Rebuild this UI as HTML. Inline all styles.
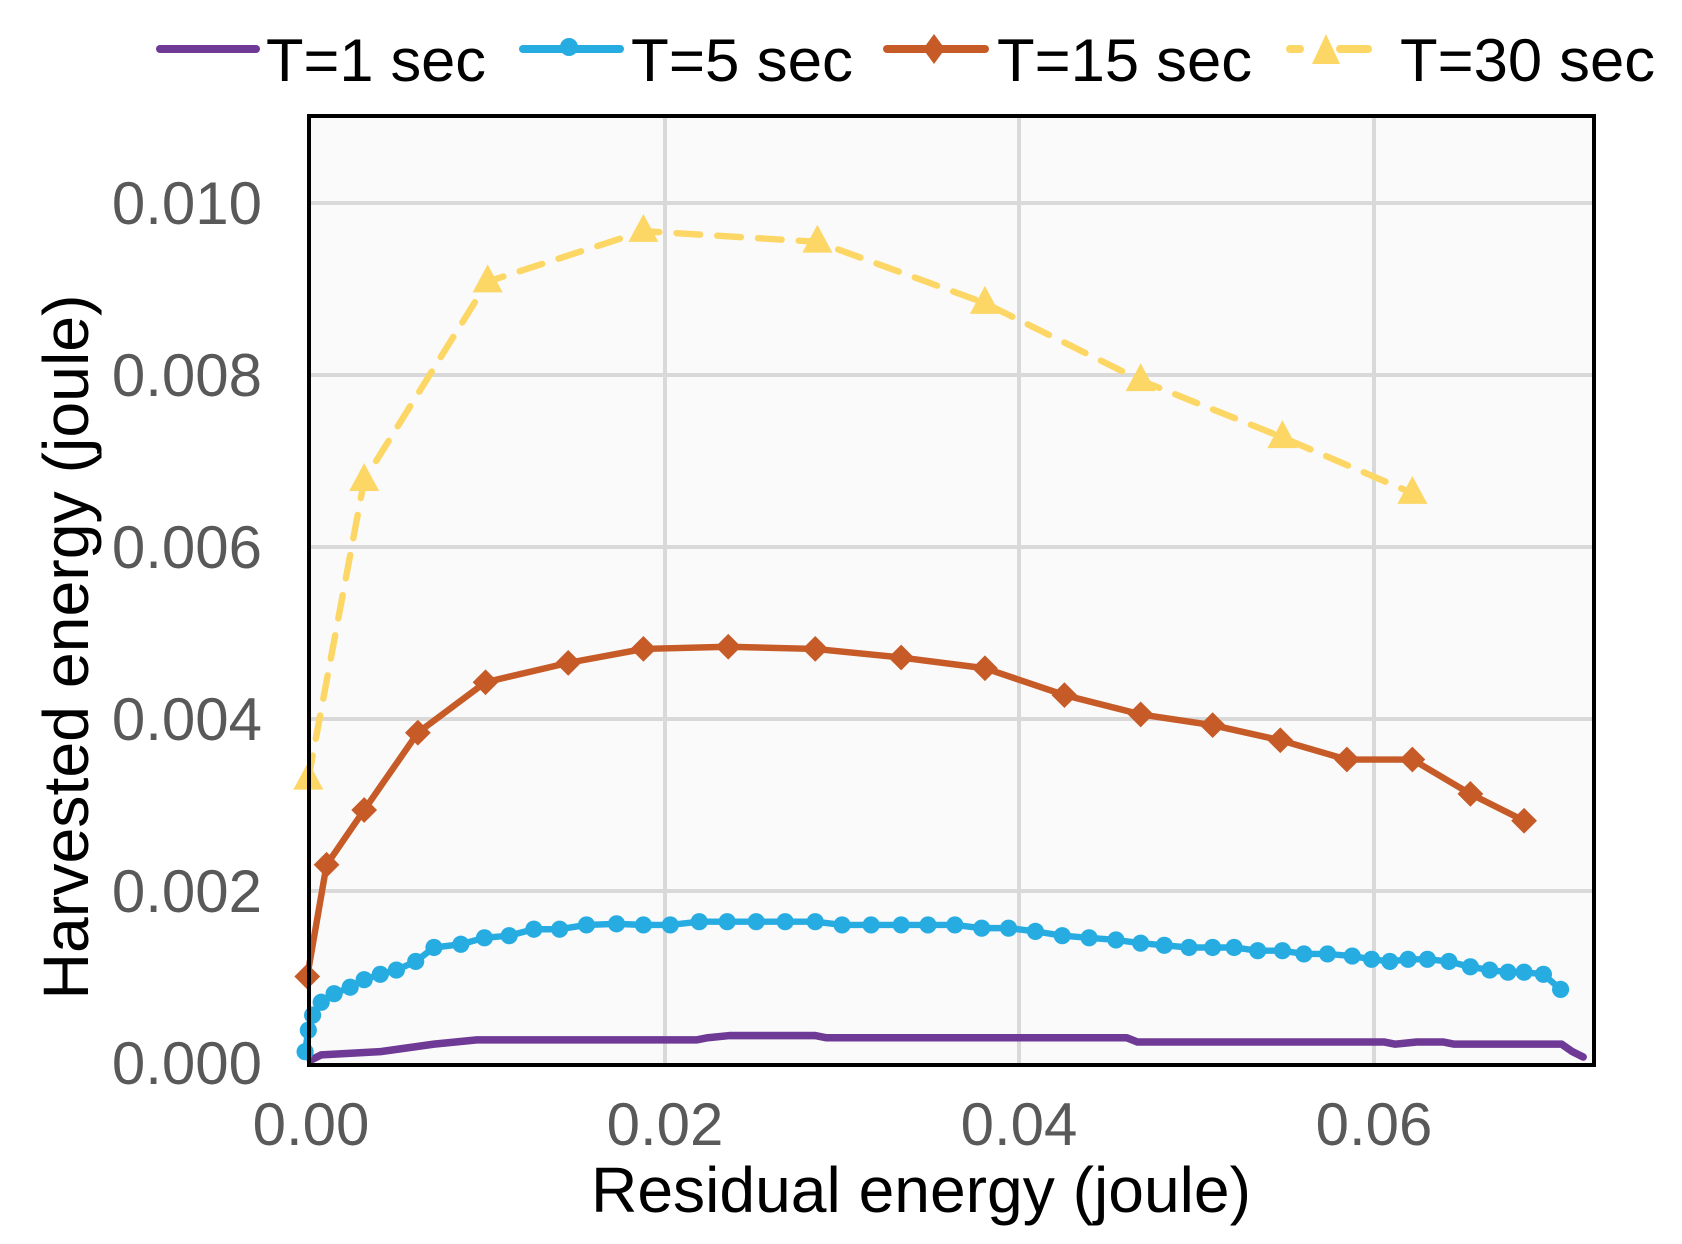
<!DOCTYPE html>
<html><head><style>html,body{margin:0;padding:0;background:#fff;}svg{display:block}</style></head>
<body>
<svg width="1682" height="1244" viewBox="0 0 1682 1244" xmlns="http://www.w3.org/2000/svg" font-family="Liberation Sans, Arial, sans-serif">
<rect x="309" y="116" width="1285" height="949" fill="#fafafa"/>
<g stroke="#d9d9d9" stroke-width="4">
<line x1="309" x2="1594" y1="891" y2="891"/><line x1="309" x2="1594" y1="719" y2="719"/>
<line x1="309" x2="1594" y1="547" y2="547"/><line x1="309" x2="1594" y1="375" y2="375"/>
<line x1="309" x2="1594" y1="203" y2="203"/>
<line x1="665" x2="665" y1="116" y2="1065"/><line x1="1019" x2="1019" y1="116" y2="1065"/><line x1="1374" x2="1374" y1="116" y2="1065"/>
</g>
<g fill="#595959" font-size="60" text-anchor="end">
<text x="262" y="1084">0.000</text><text x="262" y="912">0.002</text><text x="262" y="740">0.004</text>
<text x="262" y="568">0.006</text><text x="262" y="396">0.008</text><text x="262" y="224">0.010</text>
</g>
<g fill="#595959" font-size="60" text-anchor="middle">
<text x="311" y="1145">0.00</text><text x="665" y="1145">0.02</text><text x="1019" y="1145">0.04</text><text x="1374" y="1145">0.06</text>
</g>
<text x="921" y="1212" font-size="64" text-anchor="middle" fill="#000" textLength="660" lengthAdjust="spacingAndGlyphs">Residual energy (joule)</text>
<text transform="translate(88,647) rotate(-90)" font-size="64" text-anchor="middle" fill="#000" textLength="705" lengthAdjust="spacingAndGlyphs">Harvested energy (joule)</text>

<g transform="translate(-1,-3) scale(1.074)" stroke-linejoin="round" stroke-linecap="round">
<polyline fill="none" stroke="#6f3a96" stroke-width="7" points="290,990 300,985 355,982 405,975 445,971 650,971 660,969 680,967 760,967 770,969 1050,969 1060,973 1290,973 1300,975 1320,973 1345,973 1355,975 1455,975 1465,982 1475,987"/>
<g id="t5">
<polyline fill="none" stroke="#27ace2" stroke-width="6" points="285,982 288,962 292,948 300,936 312,928 327,922 340,915 355,910 370,906 388,898 405,885 430,882 452,876 475,874 498,868 522,868 547,864 575,863 600,864 625,864 652,861 678,861 705,861 732,861 760,861 785,864 812,864 840,864 865,864 890,864 915,867 940,867 965,870 990,874 1015,876 1040,878 1063,881 1085,883 1108,885 1130,885 1150,885 1172,888 1195,888 1215,891 1237,891 1260,893 1278,896 1295,898 1312,896 1330,896 1350,898 1370,903 1388,906 1405,908 1420,908 1438,910 1454,924"/>
<g fill="#27ace2">
<circle cx="285" cy="982" r="8"/><circle cx="288" cy="962" r="8"/><circle cx="292" cy="948" r="8"/><circle cx="300" cy="936" r="8"/><circle cx="312" cy="928" r="8"/><circle cx="327" cy="922" r="8"/><circle cx="340" cy="915" r="8"/><circle cx="355" cy="910" r="8"/><circle cx="370" cy="906" r="8"/><circle cx="388" cy="898" r="8"/><circle cx="405" cy="885" r="8"/><circle cx="430" cy="882" r="8"/><circle cx="452" cy="876" r="8"/><circle cx="475" cy="874" r="8"/><circle cx="498" cy="868" r="8"/><circle cx="522" cy="868" r="8"/><circle cx="547" cy="864" r="8"/><circle cx="575" cy="863" r="8"/><circle cx="600" cy="864" r="8"/><circle cx="625" cy="864" r="8"/><circle cx="652" cy="861" r="8"/><circle cx="678" cy="861" r="8"/><circle cx="705" cy="861" r="8"/><circle cx="732" cy="861" r="8"/><circle cx="760" cy="861" r="8"/><circle cx="785" cy="864" r="8"/><circle cx="812" cy="864" r="8"/><circle cx="840" cy="864" r="8"/><circle cx="865" cy="864" r="8"/><circle cx="890" cy="864" r="8"/><circle cx="915" cy="867" r="8"/><circle cx="940" cy="867" r="8"/><circle cx="965" cy="870" r="8"/><circle cx="990" cy="874" r="8"/><circle cx="1015" cy="876" r="8"/><circle cx="1040" cy="878" r="8"/><circle cx="1063" cy="881" r="8"/><circle cx="1085" cy="883" r="8"/><circle cx="1108" cy="885" r="8"/><circle cx="1130" cy="885" r="8"/><circle cx="1150" cy="885" r="8"/><circle cx="1172" cy="888" r="8"/><circle cx="1195" cy="888" r="8"/><circle cx="1215" cy="891" r="8"/><circle cx="1237" cy="891" r="8"/><circle cx="1260" cy="893" r="8"/><circle cx="1278" cy="896" r="8"/><circle cx="1295" cy="898" r="8"/><circle cx="1312" cy="896" r="8"/><circle cx="1330" cy="896" r="8"/><circle cx="1350" cy="898" r="8"/><circle cx="1370" cy="903" r="8"/><circle cx="1388" cy="906" r="8"/><circle cx="1405" cy="908" r="8"/><circle cx="1420" cy="908" r="8"/><circle cx="1438" cy="910" r="8"/><circle cx="1454" cy="924" r="8"/>
</g></g>
<polyline fill="none" stroke="#c65b28" stroke-width="6" points="287,912 305,808 340,757 390,685 453,638 530,620 600,607 679,605 760,607 840,615 918,625 992,650 1063,668 1130,678 1193,692 1255,710 1316,710 1370,742 1420,767"/>
<g fill="#c65b28">
<path d="M287,900l12,12l-12,12l-12,-12z"/><path d="M305,796l12,12l-12,12l-12,-12z"/><path d="M340,745l12,12l-12,12l-12,-12z"/><path d="M390,673l12,12l-12,12l-12,-12z"/><path d="M453,626l12,12l-12,12l-12,-12z"/><path d="M530,608l12,12l-12,12l-12,-12z"/><path d="M600,595l12,12l-12,12l-12,-12z"/><path d="M679,593l12,12l-12,12l-12,-12z"/><path d="M760,595l12,12l-12,12l-12,-12z"/><path d="M840,603l12,12l-12,12l-12,-12z"/><path d="M918,613l12,12l-12,12l-12,-12z"/><path d="M992,638l12,12l-12,12l-12,-12z"/><path d="M1063,656l12,12l-12,12l-12,-12z"/><path d="M1130,666l12,12l-12,12l-12,-12z"/><path d="M1193,680l12,12l-12,12l-12,-12z"/><path d="M1255,698l12,12l-12,12l-12,-12z"/><path d="M1316,698l12,12l-12,12l-12,-12z"/><path d="M1370,730l12,12l-12,12l-12,-12z"/><path d="M1420,755l12,12l-12,12l-12,-12z"/>
</g>
<polyline fill="none" stroke="#fdd765" stroke-width="6" stroke-dasharray="22,16" points="288,728 340,450 455,265 600,218 762,228 918,285 1063,357 1195,410 1316,462"/>
<g fill="#fdd765">
<path d="M288,712l14,26h-28z"/><path d="M340,434l14,26h-28z"/><path d="M455,249l14,26h-28z"/><path d="M600,202l14,26h-28z"/><path d="M762,212l14,26h-28z"/><path d="M918,269l14,26h-28z"/><path d="M1063,341l14,26h-28z"/><path d="M1195,394l14,26h-28z"/><path d="M1316,446l14,26h-28z"/>
</g>
</g>
<rect x="309" y="116" width="1285" height="949" fill="none" stroke="#000" stroke-width="4"/>

<g font-size="60" fill="#000">
<line x1="160" x2="256" y1="49" y2="49" stroke="#6f3a96" stroke-width="8" stroke-linecap="round"/>
<text x="266" y="81" textLength="220" lengthAdjust="spacingAndGlyphs">T=1 sec</text>
<line x1="523" x2="620" y1="49" y2="49" stroke="#27ace2" stroke-width="8" stroke-linecap="round"/>
<circle cx="569" cy="47" r="9" fill="#27ace2"/>
<text x="631" y="81" textLength="222" lengthAdjust="spacingAndGlyphs">T=5 sec</text>
<line x1="887" x2="985" y1="49" y2="49" stroke="#c65b28" stroke-width="8" stroke-linecap="round"/>
<path d="M934,34l11,15l-11,15l-11,-15z" fill="#c65b28"/>
<text x="997" y="81" textLength="255" lengthAdjust="spacingAndGlyphs">T=15 sec</text>
<line x1="1290" x2="1300" y1="49" y2="49" stroke="#fdd765" stroke-width="8" stroke-linecap="round"/>
<line x1="1340" x2="1368" y1="49" y2="49" stroke="#fdd765" stroke-width="8" stroke-linecap="round"/>
<path d="M1326,34l14,30h-28z" fill="#fdd765"/>
<text x="1400" y="81" textLength="255" lengthAdjust="spacingAndGlyphs">T=30 sec</text>
</g>
</svg>
</body></html>
